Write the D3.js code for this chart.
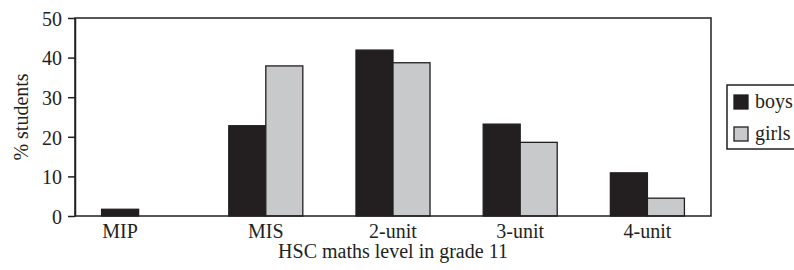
<!DOCTYPE html>
<html>
<head>
<meta charset="utf-8">
<script src="https://cdn.jsdelivr.net/npm/d3@7"></script>
<style>
  body { margin: 0; background: #fff; }
</style>
</head>
<body>
<div id="chart"></div>
<script>
// data
var categories = ["MIP", "MIS", "2-unit", "3-unit", "4-unit"];
var boys = [1.7, 22.8, 41.9, 23.2, 10.9];
var girls = [0, 37.9, 38.7, 18.6, 4.5];
var seriesNames = ["boys", "girls"];
var yTicks = [0, 10, 20, 30, 40, 50];

var colors = {boys: "#231f20", girls: "#c8c9cb"};
var ink = "#231f20";
var font = "Liberation Serif";
var fs = "20px";

// set the dimensions and margins of the diagram
var margin = {top: 18, right: 83, bottom: 54, left: 75},
  width = 794 - margin.left - margin.right,
  height = 270 - margin.top - margin.bottom;

var svg = d3.select("#chart").append("svg")
  .attr("width", 794)
  .attr("height", 270);

var g = svg.append("g")
  .attr("transform", "translate(" + margin.left + "," + margin.top + ")");

var rows = categories.map(function (c, i) {
  return {cat: c, boys: boys[i], girls: girls[i]};
});

var x0 = d3.scaleBand()
  .domain(categories)
  .range([0, width])
  .paddingInner(0.418)
  .paddingOuter(0.209);

var x1 = d3.scaleBand()
  .domain(seriesNames)
  .range([0, x0.bandwidth()]);

var y = d3.scaleLinear()
  .domain([0, 50])
  .range([height, 0]);

// bars
var group = g.selectAll(".grp")
  .data(rows)
  .enter().append("g")
  .attr("class", "grp")
  .attr("transform", function (d) { return "translate(" + x0(d.cat) + ",0)"; });

group.selectAll("rect")
  .data(function (d) {
    return seriesNames.map(function (k) { return {key: k, value: d[k]}; })
      .filter(function (e) { return e.value > 0; });
  })
  .enter().append("rect")
  .attr("x", function (d) { return x1(d.key); })
  .attr("y", function (d) { return y(d.value); })
  .attr("width", x1.bandwidth())
  .attr("height", function (d) { return height - y(d.value); })
  .attr("fill", function (d) { return colors[d.key]; })
  .attr("stroke", ink)
  .attr("stroke-width", 1.3);

// frame
g.append("rect")
  .attr("x", 0).attr("y", 0)
  .attr("width", width).attr("height", height)
  .attr("fill", "none")
  .attr("stroke", ink)
  .attr("stroke-width", 1.5);

// y axis
var yAxis = g.append("g")
  .call(d3.axisLeft(y).tickValues(yTicks).tickSize(7).tickPadding(6).tickSizeOuter(0));
yAxis.select(".domain").attr("stroke", ink).attr("stroke-width", 1.5);
yAxis.selectAll(".tick line").attr("stroke", ink).attr("stroke-width", 1.5);
yAxis.selectAll("text")
  .style("font-family", font).style("font-size", fs)
  .attr("fill", ink).attr("dy", "0.36em");

// x axis labels, centred under the bars that are drawn
g.append("g").selectAll(".xlab")
  .data(rows)
  .enter().append("text")
  .attr("class", "xlab")
  .attr("x", function (d) {
    var cs = seriesNames.filter(function (k) { return d[k] > 0; })
      .map(function (k) { return x0(d.cat) + x1(k) + x1.bandwidth() / 2; });
    return d3.mean(cs);
  })
  .attr("y", height + 22)
  .attr("text-anchor", "middle")
  .attr("fill", ink)
  .style("font-family", font).style("font-size", fs)
  .text(function (d) { return d.cat; });

// axis titles
g.append("text")
  .attr("x", width / 2)
  .attr("y", height + 42)
  .attr("text-anchor", "middle")
  .attr("fill", ink)
  .style("font-family", font).style("font-size", fs)
  .text("HSC maths level in grade 11");

g.append("text")
  .attr("transform", "translate(" + (-47) + "," + (height / 2) + ") rotate(-90)")
  .attr("text-anchor", "middle")
  .attr("fill", ink)
  .style("font-family", font).style("font-size", fs)
  .text("% students");

// legend
var legend = svg.append("g")
  .attr("transform", "translate(727,85)");
legend.append("rect")
  .attr("width", 80).attr("height", 64)
  .attr("fill", "#fff")
  .attr("stroke", ink)
  .attr("stroke-width", 1.5);
var item = legend.selectAll(".item")
  .data(seriesNames)
  .enter().append("g")
  .attr("class", "item")
  .attr("transform", function (d, i) { return "translate(7," + (10 + i * 32) + ")"; });
item.append("rect")
  .attr("width", 14).attr("height", 14)
  .attr("fill", function (d) { return colors[d]; })
  .attr("stroke", ink)
  .attr("stroke-width", 1.3);
item.append("text")
  .attr("x", 21)
  .attr("y", 13)
  .attr("fill", ink)
  .style("font-family", font).style("font-size", fs)
  .text(function (d) { return d; });
</script>
</body>
</html>
